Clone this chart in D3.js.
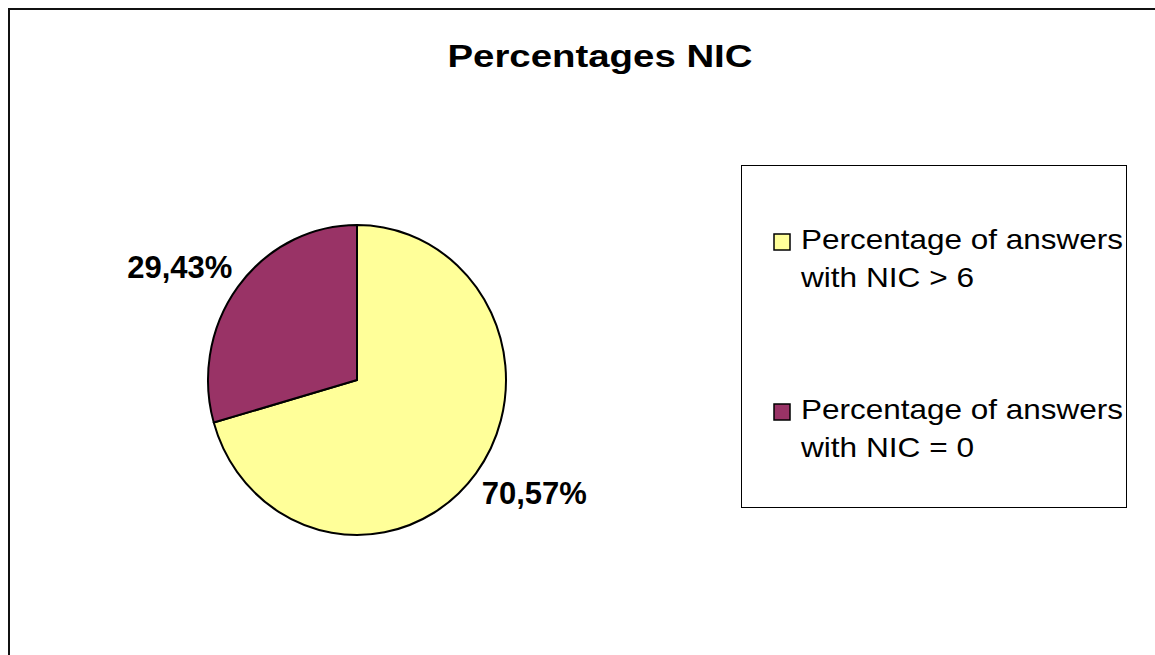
<!DOCTYPE html>
<html>
<head>
<meta charset="utf-8">
<script src="https://cdn.jsdelivr.net/npm/d3@7"></script>
<style>
  html, body { margin: 0; padding: 0; background: #fff; }
  svg { display: block; font-family: "Liberation Sans", Arial, sans-serif; }
</style>
</head>
<body>
<svg id="chart" width="1155" height="655"></svg>
<script>
// Chart data
const title = "Percentages NIC";
const categories = ["Percentage of answers with NIC > 6", "Percentage of answers with NIC = 0"];
const legendLines = [["Percentage of answers", "with NIC > 6"], ["Percentage of answers", "with NIC = 0"]];
const values = [70.57, 29.43];
const colors = ["#FFFF99", "#993366"];

const svg = d3.select("#chart");
const W = 1155, H = 655;

// Outer chart frame
svg.append("rect")
  .attr("x", 9).attr("y", 9)
  .attr("width", W + 20).attr("height", H + 20)
  .attr("fill", "#fff")
  .attr("stroke", "#111").attr("stroke-width", 2);

// Title
svg.append("text")
  .attr("x", 600).attr("y", 67)
  .attr("text-anchor", "middle")
  .attr("font-size", 31).attr("font-weight", "bold")
  .attr("textLength", 305).attr("lengthAdjust", "spacingAndGlyphs")
  .text(title);

// Pie
const cx = 357, cy = 380, r = 149, yStretch = 1.04;
const pie = d3.pie().sort(null).value(d => d);
const arcs = pie(values);
const arc = d3.arc().innerRadius(0).outerRadius(r);

const g = svg.append("g").attr("transform", `translate(${cx},${cy}) scale(1,${yStretch})`);
g.selectAll("path.slice")
  .data(arcs)
  .join("path")
  .attr("class", "slice")
  .attr("d", arc)
  .attr("fill", (d, i) => colors[i])
  .attr("stroke", "#000")
  .attr("stroke-width", 2)
  .attr("stroke-linejoin", "round");

// Value labels placed outside each slice, on an ellipse around the pie
const fmt = v => d3.format(".2f")(v).replace(".", ",") + "%";
const labelRx = 222, labelRy = 188;
const mid = d => (d.startAngle + d.endAngle) / 2;
svg.selectAll("text.val")
  .data(arcs)
  .join("text")
  .attr("class", "val")
  .attr("x", d => cx + labelRx * Math.sin(mid(d)))
  .attr("y", d => cy - labelRy * Math.cos(mid(d)) + 11)
  .attr("text-anchor", "middle")
  .attr("font-size", 31).attr("font-weight", "bold")
  .text(d => fmt(d.data));

// Legend
const lg = svg.append("g");
lg.append("rect")
  .attr("x", 741.5).attr("y", 165.5)
  .attr("width", 385).attr("height", 342)
  .attr("fill", "#fff").attr("stroke", "#000").attr("stroke-width", 1);

const itemY = d3.scalePoint().domain(categories).range([249, 419]);
const items = lg.selectAll("g.item")
  .data(categories)
  .join("g")
  .attr("class", "item")
  .attr("transform", d => `translate(0,${itemY(d)})`);

items.append("rect")
  .attr("x", 774).attr("y", -15)
  .attr("width", 16).attr("height", 16)
  .attr("fill", (d, i) => colors[i])
  .attr("stroke", "#000").attr("stroke-width", 1.5);

items.each(function(d, i) {
  const sel = d3.select(this);
  legendLines[i].forEach((line, j) => {
    sel.append("text")
      .attr("x", 801).attr("y", j * 38)
      .attr("font-size", 28)
      .attr("textLength", line.length > 14 ? 322 : 173)
      .attr("lengthAdjust", "spacingAndGlyphs")
      .text(line);
  });
});
</script>
</body>
</html>
